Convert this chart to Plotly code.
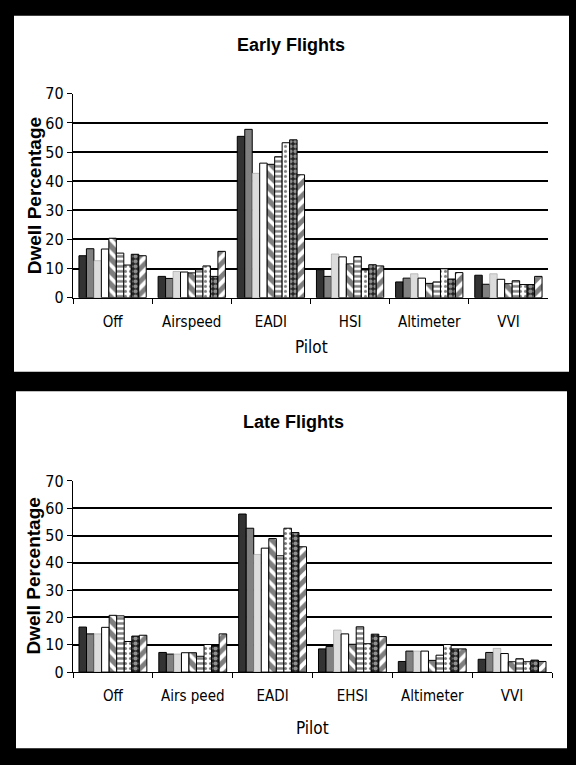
import plotly.graph_objects as go

categories_early = ["Off", "Airspeed", "EADI", "HSI", "Altimeter", "VVI"]
categories_late = ["Off", "Airs peed", "EADI", "EHSI", "Altimeter", "VVI"]

# 9 pilots; each list = values per category (Off, Airspeed, EADI, HSI/EHSI, Altimeter, VVI)
early_p1 = [14.4, 7.3, 55.4, 9.6, 5.4, 7.7]
early_p2 = [16.8, 6.6, 57.8, 7.3, 6.7, 4.6]
early_p3 = [12.7, 9.0, 42.7, 15.0, 8.2, 8.2]
early_p4 = [16.7, 8.8, 46.2, 14.0, 6.7, 6.3]
early_p5 = [20.4, 8.5, 45.8, 11.6, 4.9, 4.8]
early_p6 = [15.3, 9.7, 48.4, 14.1, 5.4, 5.8]
early_p7 = [11.2, 10.9, 53.2, 9.5, 9.9, 4.5]
early_p8 = [14.9, 7.3, 54.2, 11.3, 6.4, 4.5]
early_p9 = [14.4, 15.9, 42.2, 10.9, 8.6, 7.3]

late_p1 = [16.5, 7.2, 57.9, 8.5, 3.9, 4.7]
late_p2 = [14.0, 6.6, 52.7, 9.4, 7.7, 7.2]
late_p3 = [14.0, 6.6, 43.1, 15.4, 7.7, 8.7]
late_p4 = [16.4, 7.1, 45.4, 14.0, 7.7, 6.8]
late_p5 = [20.8, 7.1, 48.9, 10.2, 4.3, 3.8]
late_p6 = [20.6, 5.8, 42.6, 16.6, 6.2, 4.9]
late_p7 = [11.2, 10.1, 52.7, 10.4, 10.1, 3.8]
late_p8 = [13.2, 9.5, 51.1, 13.9, 8.5, 4.4]
late_p9 = [13.5, 14.0, 45.9, 13.0, 8.5, 3.9]

y_ticks = [0, 10, 20, 30, 40, 50, 60, 70]

early = [early_p1, early_p2, early_p3, early_p4, early_p5, early_p6, early_p7, early_p8, early_p9]
late = [late_p1, late_p2, late_p3, late_p4, late_p5, late_p6, late_p7, late_p8, late_p9]

styles = [
    dict(color="#333333", line=dict(color="black", width=1)),
    dict(color="#808080", line=dict(color="black", width=1)),
    dict(color="#dcdcdc", line=dict(color="#9a9a9a", width=0.6)),
    dict(color="white", line=dict(color="black", width=1)),
    dict(color="white", line=dict(color="black", width=1),
         pattern=dict(shape="\\", fgcolor="black", bgcolor="white", size=9, solidity=0.6)),
    dict(color="white", line=dict(color="black", width=1),
         pattern=dict(shape="-", fgcolor="black", bgcolor="white", size=5, solidity=0.5)),
    dict(color="white", line=dict(color="black", width=1),
         pattern=dict(shape=".", fgcolor="black", bgcolor="white", size=5, solidity=0.3)),
    dict(color="black", line=dict(color="black", width=1),
         pattern=dict(shape=".", fgcolor="white", bgcolor="#222222", size=5, solidity=0.55)),
    dict(color="white", line=dict(color="black", width=1),
         pattern=dict(shape="/", fgcolor="black", bgcolor="white", size=9, solidity=0.55)),
]

fig = go.Figure()
for i, vals in enumerate(early):
    fig.add_trace(go.Bar(x=categories_early, y=vals, marker=styles[i], xaxis="x", yaxis="y",
                         showlegend=False, name=f"Pilot {i+1}"))
for i, vals in enumerate(late):
    fig.add_trace(go.Bar(x=categories_late, y=vals, marker=styles[i], xaxis="x2", yaxis="y2",
                         showlegend=False, name=f"Pilot {i+1}"))

W, H = 576, 765
def px(x): return x / W
def py(y): return 1 - y / H

narrow = "DejaVu Sans Condensed, Liberation Sans Narrow, Liberation Sans, Arial"
tickfont = dict(family=narrow, size=16, color="black")

xcommon = dict(type="category", showline=True, linecolor="black", linewidth=1.2,
               ticks="outside", tickson="boundaries", ticklen=5, tickcolor="black",
               tickfont=dict(family=narrow, size=15, color="black"),
               showgrid=False, ticklabelstandoff=10, fixedrange=True)
ycommon = dict(range=[0, 70], tickvals=y_ticks, showline=True, linecolor="black", linewidth=1.2,
               ticks="outside", ticklen=5, tickcolor="black", tickfont=tickfont,
               showgrid=True, gridcolor="black", gridwidth=2, zeroline=False, fixedrange=True)

fig.update_layout(
    width=W, height=H, margin=dict(l=0, r=0, t=0, b=0),
    paper_bgcolor="black", plot_bgcolor="#c0c0c0",
    barmode="group", bargap=0.15, bargroupgap=0,
    xaxis=dict(domain=[px(73), px(548)], anchor="y", **xcommon),
    yaxis=dict(domain=[py(296), py(87)], anchor="x", **ycommon),
    xaxis2=dict(domain=[px(73), px(552)], anchor="y2", **xcommon),
    yaxis2=dict(domain=[py(680), py(484)], anchor="x2", **ycommon),
    shapes=[
        dict(type="rect", xref="paper", yref="paper", x0=px(14), x1=px(569), y0=py(372), y1=py(7),
             fillcolor="white", line=dict(width=0), layer="below"),
        dict(type="rect", xref="paper", yref="paper", x0=px(16), x1=px(567), y0=py(758), y1=py(392),
             fillcolor="white", line=dict(width=0), layer="below"),
    ],
)

titlefont = dict(family="Liberation Sans, Arial", size=18, color="black")
labfont = dict(family=narrow, size=17, color="black")
yfont = dict(family="Liberation Sans, Arial", size=19, color="black")
ann = [
    dict(text="<b>Early Flights</b>", x=px(291), y=py(37), font=titlefont),
    dict(text="<b>Late Flights</b>", x=px(293), y=py(424), font=titlefont),
    dict(text="Pilot", x=px(311), y=py(347), font=labfont),
    dict(text="Pilot", x=px(312), y=py(737), font=labfont),
    dict(text="<b>Dwell Percentage</b>", x=px(34), y=py(192), textangle=-90, font=yfont),
    dict(text="<b>Dwell Percentage</b>", x=px(34), y=py(582), textangle=-90, font=yfont),
]
for a in ann:
    fig.add_annotation(xref="paper", yref="paper", showarrow=False, xanchor="center", yanchor="middle", **a)

fig.write_html(
    "out.html",
    config={"displayModeBar": False, "staticPlot": True},
    post_script="document.body.style.margin='0';document.body.style.padding='0';"
                "document.body.style.background='black';document.body.style.overflow='hidden';",
)
